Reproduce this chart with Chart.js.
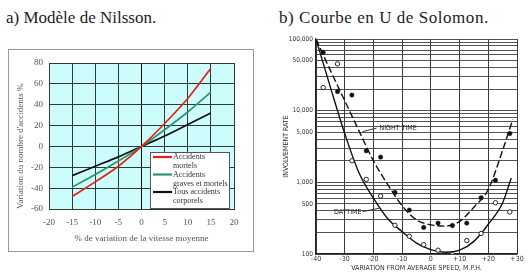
<!DOCTYPE html>
<html>
<head>
<meta charset="utf-8">
<script src="https://cdn.jsdelivr.net/npm/chart.js@4.4.1/dist/chart.umd.min.js"></script>
<style>
  html, body { margin: 0; padding: 0; background: #fff; }
  body { width: 532px; height: 274px; position: relative; overflow: hidden; }
  .fig-title {
    position: absolute; top: 8px; white-space: nowrap; color: #222;
    font-family: "Liberation Serif", "Times New Roman", serif; font-size: 17px;
  }
  #title-a { left: 6px; }
  #title-b { left: 279px; letter-spacing: 0.55px; }
  #box-a { position: absolute; left: 8px; top: 49px; width: 244px; height: 201px; border: 1px solid #9a9a9a; }
  #wrap-b { position: absolute; left: 266px; top: 28px; width: 266px; height: 246px; }
  canvas { display: block; }
</style>
</head>
<body>
<div class="fig-title" id="title-a">a) Modèle de Nilsson.</div>
<div class="fig-title" id="title-b">b) Courbe en U de Solomon.</div>
<div id="box-a"><canvas id="chart-a" width="244" height="201"></canvas></div>
<div id="wrap-b"><canvas id="chart-b" width="266" height="246"></canvas></div>

<script>
// ---- a) Nilsson power model ----
const speedChange = [-15, -10, -5, 0, 5, 10, 15];
const fatalAccidents = [-48, -34, -19, 0, 22, 46, 75];
const seriousAccidents = [-39, -27, -14, 0, 16, 33, 52];
const injuryAccidents = [-28, -19, -10, 0, 10, 21, 32];
const nilssonLabels = [
  ['Accidents', 'mortels'],
  ['Accidents', 'graves et mortels'],
  ['Tous accidents', 'corporels'],
];
const nilssonColors = ['#e32119', '#2f9468', '#111111'];

// ---- b) Solomon U-curve ----
const binCentres = [-37.5, -32.5, -27.5, -22.5, -17.5, -12.5, -7.5, -2.5, 2.5, 7.5, 12.5, 17.5, 22.5, 27.5];
const nightRates = [65000, 18500, 16500, 2750, 2250, 720, 410, 235, 270, 250, 270, 610, 1070, 4800];
const dayRates = [21000, 45000, 2000, 1100, 645, 252, 177, 135, 113, 98, 154, 193, 520, 386];
const nightCurveX = [-40, -35, -30, -25, -20, -15, -10, -5, 0, 5, 10, 15, 20, 25, 28.5];
const nightCurveY = [100000, 36500, 13800, 5200, 2000, 930, 470, 300, 255, 245, 285, 450, 800, 2800, 7500];
const dayCurveX = [-40, -35, -30, -25, -20, -15, -10, -5, 0, 5, 10, 15, 20, 25, 28];
const dayCurveY = [100000, 21300, 4800, 1350, 600, 310, 205, 142, 115, 106, 113, 150, 260, 520, 1150];
const rateGrid = [100, 200, 300, 400, 500, 600, 700, 800, 900,
  1000, 2000, 3000, 4000, 5000, 6000, 7000, 8000, 9000,
  10000, 20000, 30000, 40000, 50000, 60000, 70000, 80000, 90000, 100000];
const rateLabels = [100, 500, 1000, 5000, 10000, 50000, 100000];

const serif = '"Liberation Serif", "Times New Roman", serif';
const sans = '"DejaVu Sans Condensed", "Liberation Sans Narrow", "Liberation Sans", sans-serif';

const toPoints = (xs, ys) => xs.map((x, i) => ({ x, y: ys[i] }));

const plotBackground = {
  id: 'plotBackground',
  beforeDraw(chart, args, opts) {
    const { ctx, chartArea: a } = chart;
    ctx.save();
    ctx.fillStyle = opts.color;
    ctx.fillRect(a.left, a.top, a.right - a.left, a.bottom - a.top);
    ctx.restore();
  },
};

// legend box drawn inside the plot, bottom right
const boxLegend = {
  id: 'boxLegend',
  afterDatasetsDraw(chart) {
    const { ctx, chartArea: a } = chart;
    const w = 80, h = 57;
    const x0 = a.right - 4 - w, y0 = a.bottom - h;
    ctx.save();
    ctx.fillStyle = '#fff';
    ctx.fillRect(x0, y0, w, h);
    ctx.strokeStyle = '#555';
    ctx.lineWidth = 1;
    ctx.strokeRect(x0 + 0.5, y0 + 0.5, w - 1, h - 1);
    ctx.font = '8px ' + serif;
    ctx.fillStyle = '#333';
    ctx.textBaseline = 'middle';
    chart.data.datasets.forEach((ds, i) => {
      const y = y0 + 5 + i * 17.5;
      ctx.strokeStyle = ds.borderColor;
      ctx.lineWidth = 2.2;
      ctx.beginPath();
      ctx.moveTo(x0 + 3, y);
      ctx.lineTo(x0 + 22, y);
      ctx.stroke();
      nilssonLabels[i].forEach((line, j) => ctx.fillText(line, x0 + 23, y + j * 9));
    });
    ctx.restore();
  },
};

new Chart(document.getElementById('chart-a'), {
  type: 'scatter',
  data: {
    datasets: [fatalAccidents, seriousAccidents, injuryAccidents].map((vals, i) => ({
      label: nilssonLabels[i].join(' '),
      data: toPoints(speedChange, vals),
      showLine: true,
      borderColor: nilssonColors[i],
      borderWidth: 1.7,
      pointRadius: 0,
      tension: 0.3,
    })),
  },
  options: {
    responsive: false,
    animation: false,
    layout: { padding: { left: 0, right: 19, top: 13, bottom: 0 } },
    plugins: {
      legend: { display: false },
      tooltip: { enabled: false },
      plotBackground: { color: '#cdfcfd' },
    },
    scales: {
      x: {
        type: 'linear', min: -20, max: 20,
        afterFit: (s) => { s.height = 42; },
        ticks: { stepSize: 5, padding: 8, color: '#555', font: { family: serif, size: 9 } },
        grid: { drawTicks: false, color: (c) => (c.tick && c.tick.value === 0 ? '#000' : '#2e3a3a'), lineWidth: 1 },
        border: { color: '#2e3a3a' },
        title: {
          display: true, text: '% de variation de la vitesse moyenne', color: '#555',
          font: { family: serif, size: 9 }, padding: { top: 0, bottom: 7 },
        },
      },
      y: {
        min: -60, max: 80,
        afterFit: (s) => { s.width = 40; },
        ticks: { stepSize: 20, padding: 6, color: '#555', font: { family: serif, size: 9 } },
        grid: { drawTicks: false, color: '#2e3a3a', lineWidth: 1 },
        border: { color: '#2e3a3a' },
        title: {
          display: true, text: "Variation du nombre d'accidents %", color: '#555', align: 'start',
          font: { family: serif, size: 9 }, padding: { top: 6, bottom: 0 },
        },
      },
    },
  },
  plugins: [plotBackground, boxLegend],
});

// NIGHT TIME / DAYTIME callouts, anchored on the curves
const curveNotes = [
  { text: 'NIGHT TIME', x: -23.8, y: 5100, dx: 14, dy: -3.5, side: 'right' },
  { text: 'DAYTIME', x: -17.9, y: 436, dx: -17, dy: 3.5, side: 'left' },
];

const curveLabels = {
  id: 'curveLabels',
  afterDatasetsDraw(chart) {
    const { ctx, scales } = chart;
    ctx.save();
    ctx.strokeStyle = '#222';
    ctx.fillStyle = '#222';
    ctx.lineWidth = 0.9;
    ctx.font = '7px ' + sans;
    ctx.textBaseline = 'middle';
    curveNotes.forEach((n) => {
      const px = scales.x.getPixelForValue(n.x);
      const py = scales.y.getPixelForValue(n.y);
      ctx.beginPath();
      ctx.moveTo(px, py);
      ctx.lineTo(px + n.dx, py + n.dy);
      ctx.stroke();
      if (n.side === 'right') {
        ctx.textAlign = 'left';
        ctx.fillText(n.text, px + n.dx + 3, py + n.dy);
      } else {
        ctx.textAlign = 'right';
        ctx.fillText(n.text, px + n.dx - 1, py + n.dy + 1);
      }
    });
    ctx.restore();
  },
};

new Chart(document.getElementById('chart-b'), {
  type: 'scatter',
  data: {
    datasets: [
      {
        label: 'Night',
        data: toPoints(binCentres, nightRates),
        pointRadius: 2.2,
        pointBackgroundColor: '#111',
        pointBorderColor: '#111',
        pointBorderWidth: 0.5,
      },
      {
        label: 'Day',
        data: toPoints(binCentres, dayRates),
        pointRadius: 2.2,
        pointBackgroundColor: '#fff',
        pointBorderColor: '#111',
        pointBorderWidth: 0.9,
      },
      {
        label: 'Night time curve',
        data: toPoints(nightCurveX, nightCurveY),
        showLine: true,
        borderColor: '#111',
        borderWidth: 1.4,
        borderDash: [7, 3],
        pointRadius: 0,
        cubicInterpolationMode: 'monotone',
      },
      {
        label: 'Daytime curve',
        data: toPoints(dayCurveX, dayCurveY),
        showLine: true,
        borderColor: '#111',
        borderWidth: 1.4,
        pointRadius: 0,
        cubicInterpolationMode: 'monotone',
      },
    ],
  },
  options: {
    responsive: false,
    animation: false,
    layout: { padding: { left: 0, right: 15, top: 11, bottom: 0 } },
    plugins: { legend: { display: false }, tooltip: { enabled: false } },
    scales: {
      x: {
        type: 'linear', min: -40, max: 30,
        afterFit: (s) => { s.height = 20; },
        ticks: {
          stepSize: 10, padding: 1, color: '#333', font: { family: sans, size: 7 },
          callback: (v) => (v > 0 ? '+' + v : String(v)),
        },
        grid: { drawTicks: false, color: '#3a3a3a', lineWidth: 1 },
        border: { color: '#222', width: 1.2 },
        title: {
          display: true, text: 'VARIATION FROM AVERAGE SPEED, M.P.H.', color: '#333',
          font: { family: sans, size: 7 }, padding: { top: 0, bottom: 2 },
        },
      },
      y: {
        type: 'logarithmic', min: 100, max: 100000,
        afterFit: (s) => { s.width = 50; },
        afterBuildTicks: (s) => { s.ticks = rateGrid.map((v) => ({ value: v })); },
        ticks: {
          autoSkip: false, padding: 3, color: '#333', font: { family: sans, size: 6.5 },
          callback: (v) => (rateLabels.includes(v) ? v.toLocaleString('en-US') : ''),
        },
        grid: { drawTicks: false, color: '#3f3f3f', lineWidth: 0.9 },
        border: { color: '#222', width: 1.2 },
        title: {
          display: true, text: 'INVOLVEMENT RATE', color: '#333',
          font: { family: sans, size: 7 }, padding: { top: 16, bottom: 0 },
        },
      },
    },
  },
  plugins: [curveLabels],
});
</script>
</body>
</html>
